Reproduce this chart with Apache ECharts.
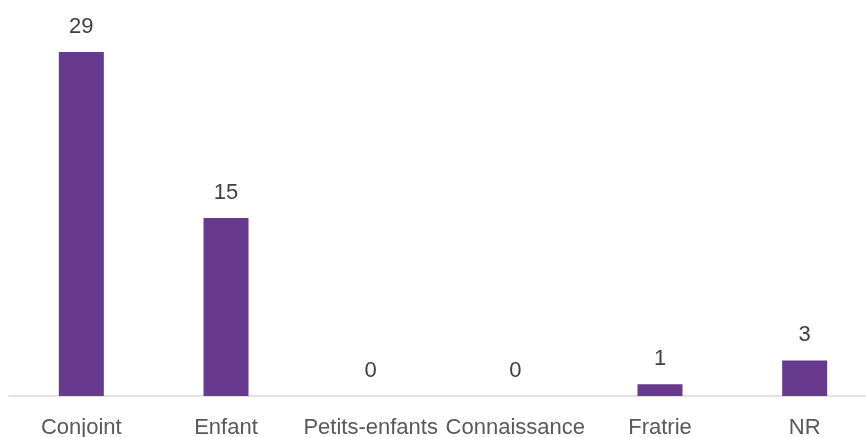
<!DOCTYPE html>
<html>
<head>
<meta charset="utf-8">
<script src="https://cdn.jsdelivr.net/npm/echarts@6/dist/echarts.min.js"></script>
<style>
  html, body { margin: 0; padding: 0; background: #fff; }
  #chart { width: 866px; height: 437px; }
</style>
</head>
<body>
<div id="chart"></div>
<script>
var categories = ['Conjoint', 'Enfant', 'Petits-enfants', 'Connaissance', 'Fratrie', 'NR'];
var values = [29, 15, 0, 0, 1, 3];

var myChart = echarts.init(document.getElementById('chart'));

var option = {
    animation: false,
    grid: { left: 9, width: 868, top: 52, bottom: 41, containLabel: false, outerBoundsMode: 'none' },
    xAxis: {
        type: 'category',
        data: categories,
        axisLine: { lineStyle: { color: '#D9D9D9', width: 1.5 } },
        axisTick: { show: false },
        axisLabel: {
            color: '#595959',
            fontFamily: 'Liberation Sans, Arial',
            fontSize: 22,
            margin: 21,
            interval: 0
        }
    },
    yAxis: {
        type: 'value',
        min: 0,
        max: 29,
        show: false
    },
    series: [{
        type: 'bar',
        data: values,
        barWidth: 45,
        itemStyle: { color: '#673A8E' },
        label: {
            show: true,
            position: 'top',
            distance: 14,
            color: '#404040',
            fontFamily: 'Liberation Sans, Arial',
            fontSize: 22
        }
    }]
};

myChart.setOption(option);
</script>
</body>
</html>
